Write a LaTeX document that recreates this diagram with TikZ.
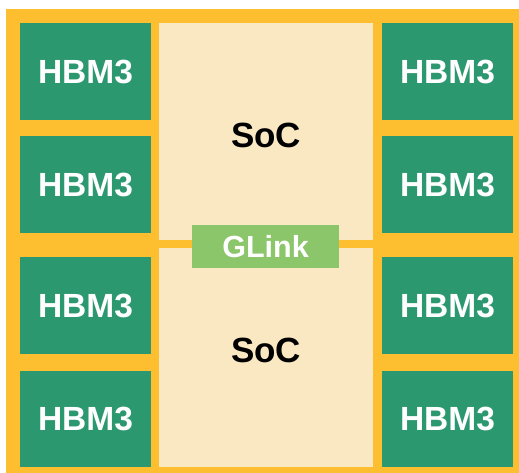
\documentclass[tikz,border=0pt]{standalone}
\usepackage{fontspec}
\setmainfont{Liberation Sans}
\definecolor{frame}{HTML}{FDBF2F}
\definecolor{hbm}{HTML}{2C9870}
\definecolor{soc}{HTML}{F9E8C2}
\definecolor{glink}{HTML}{8BC76A}
\tikzset{
  hbmbox/.style={fill=hbm, draw=none},
  hbmtext/.style={text=white, font=\bfseries\fontsize{33.5}{36}\selectfont, inner sep=0pt},
  soctext/.style={text=black, font=\bfseries\fontsize{35}{38}\selectfont, inner sep=0pt},
  glinkbox/.style={fill=glink, draw=none, minimum width=147pt, minimum height=43pt, inner sep=0pt,
    text=white, font=\bfseries\fontsize{30.5}{33}\selectfont},
}
\begin{document}
\begin{tikzpicture}[x=1pt, y=-1pt]
  \useasboundingbox (0,0) rectangle (519,473);
  % package substrate
  \fill[frame] (6,9) rectangle (519,473);
  % the two SoC dies
  \fill[soc] (159,23) rectangle (373,240);
  \fill[soc] (159,248) rectangle (373,467);
  % HBM3 stacks, left column
  \foreach \t/\b/\n in {23/120/l1, 136/233/l2, 257/354/l3, 371/467/l4}{
    \fill[hbmbox] (20,\t) rectangle (151,\b);
    \node[hbmtext] (\n) at (85.5,{(\t+\b)/2}) {HBM3};
  }
  % HBM3 stacks, right column
  \foreach \t/\b/\n in {23/120/r1, 136/233/r2, 257/354/r3, 371/467/r4}{
    \fill[hbmbox] (382,\t) rectangle (513,\b);
    \node[hbmtext] (\n) at (447.5,{(\t+\b)/2}) {HBM3};
  }
  % die labels
  \node[soctext] (socA) at (266,135) {SoC};
  \node[soctext] (socB) at (266,350) {SoC};
  % die-to-die link
  \node[glinkbox] (link) at (265.5,246.5) {GLink};
\end{tikzpicture}
\end{document}
